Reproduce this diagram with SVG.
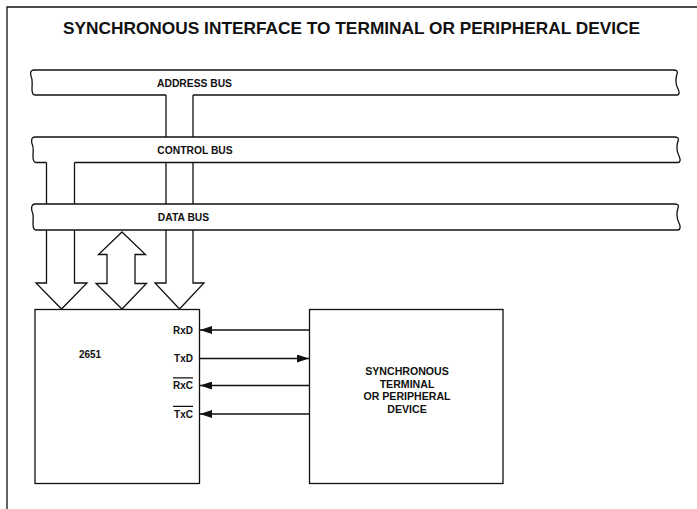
<svg xmlns="http://www.w3.org/2000/svg" width="697" height="509" viewBox="0 0 697 509">
<defs>
<style>
.ln{fill:none;stroke:#111;stroke-width:1.3}
.sh{fill:#fff;stroke:#111;stroke-width:1.3;stroke-linejoin:miter}
.bf{fill:#fff;stroke:none}
.t{font-family:"Liberation Sans",Arial,Helvetica,sans-serif;font-weight:bold;fill:#111}
.title{font-size:17.3px}
.bus{font-size:10.3px}
.pin{font-size:10px}
.dev{font-size:10.6px}
</style>
<marker id="ah" viewBox="0 0 12 8" refX="12" refY="4" markerWidth="12" markerHeight="8" markerUnits="userSpaceOnUse" orient="auto">
<path d="M0,0 L12,4 L0,8 Z" fill="#111"/>
</marker>
</defs>
<rect width="697" height="509" fill="#fff"/>
<path class="ln" d="M7,509 V7 H697"/>
<text class="t title" x="351.5" y="33.5" text-anchor="middle">SYNCHRONOUS INTERFACE TO TERMINAL OR PERIPHERAL DEVICE</text>

<g id="bus-arrows">
<polygon class="sh" points="166,94 166,283 155,283 179.5,309 204,283 193,283 193,94"/>
<polygon class="sh" points="46.5,161 46.5,283 36,283 61.5,309 87,283 74.5,283 74.5,161"/>
<polygon class="sh" points="122,232 145.5,254.5 135,254.5 135,283.5 146.5,283.5 122,309 96,283.5 107,283.5 107,254.5 98.5,254.5"/>
</g>

<g id="address-bus">
<path class="bf" d="M35,95 C33,95 32,93 32,89 C32,84 33,80 31,76 C30,72 31,70 34,70 H673 C677,70 678,71 677,74 C675,80 676,85 678,89 C680,93 679,95 677,95 Z"/>
<path class="ln" d="M166,95 H35 C33,95 32,93 32,89 C32,84 33,80 31,76 C30,72 31,70 34,70 H673 C677,70 678,71 677,74 C675,80 676,85 678,89 C680,93 679,95 677,95 H193"/>
<text class="t bus" x="194.5" y="86.5" text-anchor="middle">ADDRESS BUS</text>
</g>

<g id="control-bus">
<path class="bf" d="M36,162.5 C34,162.5 33,160.5 33,156.5 C33,151.5 34,147.5 32,143.5 C31,139.5 32,137 35,137 H674 C678,137 679,138 678,141 C676,147 677,152 679,156 C681,160 680,162.5 678,162.5 Z"/>
<path class="ln" d="M46.5,162.5 H36 C34,162.5 33,160.5 33,156.5 C33,151.5 34,147.5 32,143.5 C31,139.5 32,137 35,137 H674 C678,137 679,138 678,141 C676,147 677,152 679,156 C681,160 680,162.5 678,162.5 H74.5"/>
<text class="t bus" x="195" y="154" text-anchor="middle">CONTROL BUS</text>
</g>

<g id="data-bus">
<path class="sh" d="M36,230 C34,230 33,228 33,224 C33,219 34,215 32,211 C31,207 32,204 35,204 H674 C678,204 679,205 678,208 C676,214 677,219 679,223 C681,227 680,230 678,230 Z"/>
<text class="t bus" x="183.5" y="221" text-anchor="middle">DATA BUS</text>
</g>

<g id="chip-2651">
<rect class="sh" x="35" y="309.5" width="164.5" height="174"/>
<text class="t pin" x="90" y="358" text-anchor="middle">2651</text>
<text class="t pin" x="193" y="333.5" text-anchor="end">RxD</text>
<text class="t pin" x="193" y="361.5" text-anchor="end">TxD</text>
<text class="t pin" x="193" y="389" text-anchor="end">RxC</text>
<text class="t pin" x="193" y="417.5" text-anchor="end">TxC</text>
<path class="ln" d="M173,377.8 H193 M173,406.3 H193" stroke-width="1"/>
</g>

<g id="terminal">
<rect class="sh" x="309.5" y="309.5" width="193.5" height="174"/>
<text class="t dev" text-anchor="middle"><tspan x="407" y="375">SYNCHRONOUS</tspan><tspan x="407" y="387.5">TERMINAL</tspan><tspan x="407" y="400">OR PERIPHERAL</tspan><tspan x="407" y="412.5">DEVICE</tspan></text>
</g>

<g id="connectors">
<line class="ln" x1="309.5" y1="330" x2="200" y2="330" marker-end="url(#ah)"/>
<line class="ln" x1="199.5" y1="358.5" x2="309" y2="358.5" marker-end="url(#ah)"/>
<line class="ln" x1="309.5" y1="385.5" x2="200" y2="385.5" marker-end="url(#ah)"/>
<line class="ln" x1="309.5" y1="414" x2="200" y2="414" marker-end="url(#ah)"/>
</g>
</svg>
